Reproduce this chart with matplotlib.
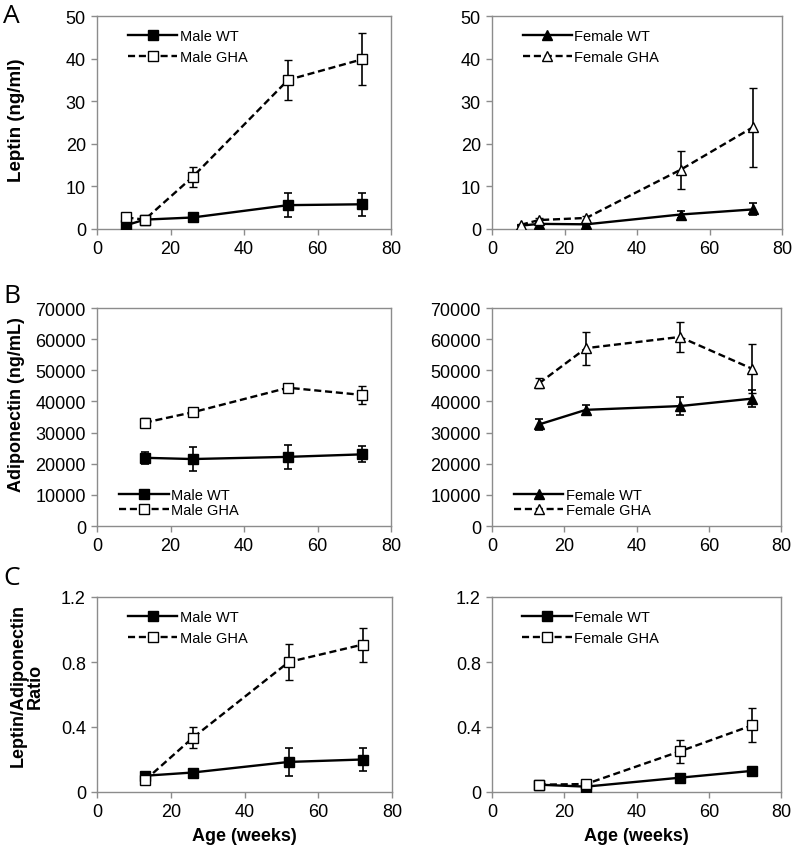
import matplotlib as mpl
import matplotlib.pyplot as plt

mpl.rcParams.update({
    "font.family": ["Liberation Sans", "DejaVu Sans"],
    "font.size": 10,
})

W, H = 794, 853

# ages (weeks)
age_a = [8, 13, 26, 52, 72]
age_bc = [13, 26, 52, 72]

# A: leptin (ng/ml)
male_wt_lep = [0.9, 2.2, 2.7, 5.6, 5.8]
male_wt_lep_err = [0.4, 0.4, 0.8, 2.8, 2.7]
male_gha_lep = [2.7, 2.2, 12.2, 35.0, 39.8]
male_gha_lep_err = [0.4, 0.4, 2.3, 4.7, 6.1]
fem_wt_lep = [0.8, 1.2, 1.1, 3.4, 4.6]
fem_wt_lep_err = [0.1, 0.3, 0.3, 0.8, 1.4]
fem_gha_lep = [1.0, 2.1, 2.6, 13.9, 23.9]
fem_gha_lep_err = [0.1, 0.4, 0.4, 4.5, 9.3]

# B: adiponectin (ng/mL)
male_wt_adi = [21900, 21500, 22200, 23000]
male_wt_adi_err = [2000, 3900, 3900, 2600]
male_gha_adi = [33200, 36500, 44400, 42100]
male_gha_adi_err = [1500, 700, 900, 2800]
fem_wt_adi = [32600, 37300, 38500, 40900]
fem_wt_adi_err = [1800, 1600, 2800, 2700]
fem_gha_adi = [45800, 57100, 60700, 50500]
fem_gha_adi_err = [1600, 5300, 4700, 7900]

# C: leptin/adiponectin ratio
male_wt_rat = [0.10, 0.12, 0.185, 0.20]
male_wt_rat_err = [0.01, 0.01, 0.085, 0.07]
male_gha_rat = [0.072, 0.334, 0.80, 0.907]
male_gha_rat_err = [0.01, 0.065, 0.11, 0.105]
fem_wt_rat = [0.045, 0.033, 0.088, 0.13]
fem_wt_rat_err = [0.005, 0.005, 0.01, 0.02]
fem_gha_rat = [0.045, 0.049, 0.25, 0.41]
fem_gha_rat_err = [0.005, 0.005, 0.07, 0.105]

GRAY = "#8c8c8c"


def px_axes(fig, x0, y0, x1, y1):
    return fig.add_axes([x0 / W, 1 - y1 / H, (x1 - x0) / W, (y1 - y0) / H])


def draw(ax, x, wt, wt_err, gha, gha_err, mk, labels, ylim, yticks, loc):
    ax.errorbar(x, wt, yerr=wt_err, color="black", lw=1.7, marker=mk,
                ms=6.5, mfc="black", mec="black", capsize=3, elinewidth=1.2,
                capthick=1.2, label=labels[0], zorder=3)
    ax.errorbar(x, gha, yerr=gha_err, color="black", lw=1.7, ls=(0, (3, 1.6)),
                marker=mk, ms=6.5, mfc="white", mec="black", mew=1.0,
                capsize=3, elinewidth=1.2, capthick=1.2, label=labels[1],
                zorder=4)
    ax.set_xlim(0, 80)
    ax.set_xticks([0, 20, 40, 60, 80])
    ax.set_ylim(*ylim)
    ax.set_yticks(yticks)
    for s in ax.spines.values():
        s.set_color(GRAY)
        s.set_linewidth(1.0)
    ax.tick_params(direction="out", color=GRAY, length=4, width=1.0,
                   labelsize=13, pad=4)
    handles, labs = ax.get_legend_handles_labels()
    handles = [h[0] for h in handles]
    if loc == "upper left":
        ax.legend(handles, labs, loc="upper left", bbox_to_anchor=(0.06, 1.0),
                  frameon=False, fontsize=10.5, handlelength=3.4,
                  handletextpad=0.15, labelspacing=0.5, borderpad=0.4)
    else:
        ax.legend(handles, labs, loc="lower left", bbox_to_anchor=(0.03, -0.02),
                  frameon=False, fontsize=10.5, handlelength=3.4,
                  handletextpad=0.15, labelspacing=0.1, borderpad=0.4)


fig = plt.figure(figsize=(W / 100, H / 100), dpi=100)

# row A
ax = px_axes(fig, 97, 17, 391, 230)
draw(ax, age_a, male_wt_lep, male_wt_lep_err, male_gha_lep, male_gha_lep_err,
     "s", ["Male WT", "Male GHA"], (0, 50), range(0, 51, 10), "upper left")
ax = px_axes(fig, 492, 17, 782, 230)
draw(ax, age_a, fem_wt_lep, fem_wt_lep_err, fem_gha_lep, fem_gha_lep_err,
     "^", ["Female WT", "Female GHA"], (0, 50), range(0, 51, 10), "upper left")

# row B
ax = px_axes(fig, 97, 309, 391, 527)
draw(ax, age_bc, male_wt_adi, male_wt_adi_err, male_gha_adi, male_gha_adi_err,
     "s", ["Male WT", "Male GHA"], (0, 70000), range(0, 70001, 10000),
     "lower left")
ax = px_axes(fig, 492, 309, 781, 527)
draw(ax, age_bc, fem_wt_adi, fem_wt_adi_err, fem_gha_adi, fem_gha_adi_err,
     "^", ["Female WT", "Female GHA"], (0, 70000), range(0, 70001, 10000),
     "lower left")

# row C
ax = px_axes(fig, 97, 598, 392, 793)
draw(ax, age_bc, male_wt_rat, male_wt_rat_err, male_gha_rat, male_gha_rat_err,
     "s", ["Male WT", "Male GHA"], (0, 1.2), [0, 0.4, 0.8, 1.2], "upper left")
ax.set_yticklabels(["0", "0.4", "0.8", "1.2"])
ax.set_xlabel("Age (weeks)", fontsize=13, fontweight="bold", labelpad=5)
ax = px_axes(fig, 492, 598, 781, 793)
draw(ax, age_bc, fem_wt_rat, fem_wt_rat_err, fem_gha_rat, fem_gha_rat_err,
     "s", ["Female WT", "Female GHA"], (0, 1.2), [0, 0.4, 0.8, 1.2],
     "upper left")
ax.set_yticklabels(["0", "0.4", "0.8", "1.2"])
ax.set_xlabel("Age (weeks)", fontsize=13, fontweight="bold", labelpad=5)

# y labels
fig.text(17 / W, 1 - 120 / H, "Leptin (ng/ml)", rotation=90, ha="center",
         va="center", fontsize=13.5, fontweight="bold")
fig.text(17 / W, 1 - 405 / H, "Adiponectin (ng/mL)", rotation=90,
         ha="center", va="center", fontsize=13, fontweight="bold")
fig.text(27 / W, 1 - 686 / H, "Leptin/Adiponectin\nRatio", rotation=90,
         ha="center", va="center", fontsize=13, fontweight="bold",
         linespacing=1.0)

# panel letters
for letter, y in [("A", 4), ("B", 284), ("C", 566)]:
    fig.text(3 / W, 1 - y / H, letter, ha="left", va="top", fontsize=19,
             family=["Open Sans", "DejaVu Sans"])

fig.savefig("out.png", dpi=100)
